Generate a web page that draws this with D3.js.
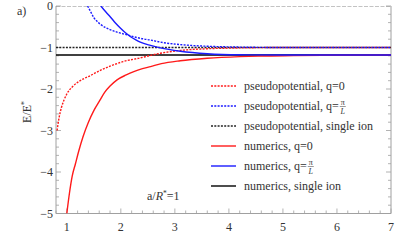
<!DOCTYPE html>
<html>
<head>
<meta charset="utf-8">
<script src="https://cdn.jsdelivr.net/npm/d3@7"></script>
<style>
  body { margin: 0; background: #fff; }
</style>
</head>
<body>
<svg id="chart" width="399" height="240"></svg>
<script>
// Values
const xTicks = [1, 2, 3, 4, 5, 6, 7];
const yTicks = [0, -1, -2, -3, -4, -5];

const pseudoQ0 = [[0.82,-3.0],[0.86,-2.67],[0.9,-2.45],[0.95,-2.26],[1.0,-2.12],[1.1,-1.95],[1.2,-1.84],
  [1.3,-1.76],[1.43,-1.68],[1.62,-1.55],[1.8,-1.45],[2.04,-1.34],[2.36,-1.25],[2.55,-1.19],[2.73,-1.14],
  [3.1,-1.07],[3.6,-1.03],[4.2,-1.01],[5,-1.0],[7,-1.0]];
const pseudoQpi = [[1.385,0],[1.45,-0.16],[1.5,-0.28],[1.56,-0.37],[1.62,-0.44],[1.75,-0.54],[1.93,-0.63],
  [2.1,-0.69],[2.24,-0.74],[2.4,-0.79],[2.55,-0.82],[2.73,-0.87],[3.1,-0.93],[3.6,-0.97],[4.2,-0.99],
  [5,-1.0],[7,-1.0]];
const numQ0 = [[1.0,-5.0],[1.05,-4.5],[1.1,-4.1],[1.16,-3.8],[1.22,-3.5],[1.3,-3.15],[1.4,-2.8],[1.5,-2.52],
  [1.6,-2.3],[1.7,-2.08],[1.8,-1.93],[1.93,-1.78],[2.1,-1.66],[2.24,-1.58],[2.4,-1.51],[2.55,-1.46],
  [2.75,-1.39],[3.1,-1.32],[3.6,-1.26],[4.2,-1.22],[4.6,-1.205],[5.2,-1.195],[6,-1.185],[7,-1.18]];
const numQpi = [[1.63,0],[1.72,-0.14],[1.81,-0.27],[1.9,-0.41],[1.99,-0.53],[2.08,-0.64],[2.18,-0.74],
  [2.27,-0.81],[2.36,-0.87],[2.55,-0.95],[2.73,-1.01],[3.1,-1.09],[3.6,-1.15],[4.2,-1.175],[5,-1.18],[7,-1.18]];
const singleIonPseudo = -1.0;
const singleIonNumerics = -1.18;
const zeroLevel = 0;

const legendItems = [
  { label: 'pseudopotential, q=', frac: false, text0: '0', color: '#ff1a1a', dash: '2,1.3' },
  { label: 'pseudopotential, q=', frac: true, color: '#1a1aff', dash: '2,1.3' },
  { label: 'pseudopotential, single ion', frac: false, color: '#222', dash: '2,1.3' },
  { label: 'numerics, q=', frac: false, text0: '0', color: '#ff1a1a', dash: null },
  { label: 'numerics, q=', frac: true, color: '#1a1aff', dash: null },
  { label: 'numerics, single ion', frac: false, color: '#000', dash: null }
];

const margin = { left: 56, right: 8, top: 6, bottom: 26.5 };
const width = 399, height = 240;
const serif = "'Liberation Serif', 'Times New Roman', serif";

const svg = d3.select('#chart')
  .attr('font-family', serif)
  .style('font-family', serif);

const x = d3.scaleLinear().domain([0.8, 7]).range([margin.left, width - margin.right]);
const y = d3.scaleLinear().domain([-5, 0]).range([height - margin.bottom, margin.top]);

const axisColor = '#a0a0a0';
const textColor = '#333';

svg.append('clipPath').attr('id', 'clip')
  .append('rect')
  .attr('x', x(0.8)).attr('y', y(0))
  .attr('width', x(7) - x(0.8)).attr('height', y(-5) - y(0));

// minor / major ticks, pointing inwards
const xMinor = d3.range(0.8, 7.001, 0.2);
const yMinor = d3.range(-5, 0.001, 0.2);

const tickG = svg.append('g').attr('stroke', axisColor).attr('stroke-width', 0.8);
xMinor.forEach(function(v) {
  const major = Math.abs(v - Math.round(v)) < 1e-6;
  tickG.append('line')
    .attr('x1', x(v)).attr('x2', x(v))
    .attr('y1', y(-5)).attr('y2', y(-5) - (major ? 5 : 3));
});
yMinor.forEach(function(v) {
  const major = Math.abs(v - Math.round(v)) < 1e-6;
  const len = major ? 5 : 3;
  tickG.append('line')
    .attr('x1', x(0.8)).attr('x2', x(0.8) + len)
    .attr('y1', y(v)).attr('y2', y(v));
  tickG.append('line')
    .attr('x1', x(7)).attr('x2', x(7) - len)
    .attr('y1', y(v)).attr('y2', y(v));
});

// frame (left, bottom, right)
svg.append('path')
  .attr('d', 'M' + x(0.8) + ',' + y(0) + 'V' + y(-5) + 'H' + x(7) + 'V' + y(0))
  .attr('fill', 'none').attr('stroke', axisColor).attr('stroke-width', 1);

// tick labels
svg.append('g').selectAll('text').data(xTicks).enter().append('text')
  .attr('x', function(d) { return x(d); })
  .attr('y', y(-5) + 17)
  .attr('text-anchor', 'middle')
  .attr('font-size', 12)
  .attr('fill', textColor)
  .text(function(d) { return d; });

svg.append('g').selectAll('text').data(yTicks).enter().append('text')
  .attr('x', x(0.8) - 3)
  .attr('y', function(d) { return y(d) + 4; })
  .attr('text-anchor', 'end')
  .attr('font-size', 12)
  .attr('fill', textColor)
  .text(function(d) { return d === 0 ? '0' : '\u2212' + Math.abs(d); });

// curves
const line = d3.line()
  .x(function(d) { return x(d[0]); })
  .y(function(d) { return y(d[1]); })
  .curve(d3.curveMonotoneX);

const plot = svg.append('g').attr('clip-path', 'url(#clip)');

function hline(val, color, dash, w) {
  plot.append('path')
    .attr('d', line([[0.8, val], [7, val]]))
    .attr('fill', 'none').attr('stroke', color)
    .attr('stroke-width', w).attr('stroke-dasharray', dash);
}

hline(zeroLevel, '#888', '4,1.5', 1);
hline(singleIonNumerics, '#000', null, 1.4);
hline(singleIonPseudo, '#222', '2,1.3', 1.4);

const series = [
  { data: pseudoQ0, color: '#ff1a1a', dash: '2,1.3' },
  { data: pseudoQpi, color: '#1a1aff', dash: '2,1.3' },
  { data: numQ0, color: '#ff1a1a', dash: null },
  { data: numQpi, color: '#1a1aff', dash: null }
];
series.forEach(function(s) {
  plot.append('path')
    .attr('d', line(s.data))
    .attr('fill', 'none')
    .attr('stroke', s.color)
    .attr('stroke-width', 1.4)
    .attr('stroke-dasharray', s.dash);
});

// legend
const legend = svg.append('g');
legendItems.forEach(function(item, i) {
  const ly = 86 + i * 20;
  legend.append('line')
    .attr('x1', 211).attr('x2', 236).attr('y1', ly).attr('y2', ly)
    .attr('stroke', item.color).attr('stroke-width', 1.4)
    .attr('stroke-dasharray', item.dash);
  const t = legend.append('text')
    .attr('x', 244).attr('y', ly + 4)
    .attr('font-size', 12)
    .attr('fill', textColor)
    .text(item.label + (item.frac ? '' : (item.text0 || '')));
  if (item.frac) {
    const w = t.node().getComputedTextLength();
    const fx = 244 + w + 1;
    legend.append('text').attr('x', fx + 3).attr('y', ly - 1).attr('font-size', 8)
      .attr('fill', textColor).attr('text-anchor', 'middle').text('\u03c0');
    legend.append('line').attr('x1', fx).attr('x2', fx + 6)
      .attr('y1', ly + 0.5).attr('y2', ly + 0.5).attr('stroke', textColor).attr('stroke-width', 0.5);
    legend.append('text').attr('x', fx + 3).attr('y', ly + 7.5).attr('font-size', 8)
      .attr('fill', textColor).attr('font-style', 'italic').attr('text-anchor', 'middle').text('L');
  }
});

// annotations
const ann = svg.append('text').attr('x', 147).attr('y', 200).attr('font-size', 12).attr('fill', textColor);
ann.append('tspan').text('a/');
ann.append('tspan').attr('font-style', 'italic').text('R');
ann.append('tspan').attr('font-size', 7.5).attr('dy', -4).text('*');
ann.append('tspan').attr('dy', 4).text('=1');

svg.append('text').attr('x', 17).attr('y', 15).attr('font-size', 12).attr('fill', textColor).text('a)');

const ylab = svg.append('text')
  .attr('transform', 'translate(31,112) rotate(-90)')
  .attr('text-anchor', 'middle')
  .attr('font-size', 12)
  .attr('fill', textColor);
ylab.append('tspan').text('E/E');
ylab.append('tspan').attr('font-size', 7.5).attr('dy', -4).text('*');
</script>
</body>
</html>
